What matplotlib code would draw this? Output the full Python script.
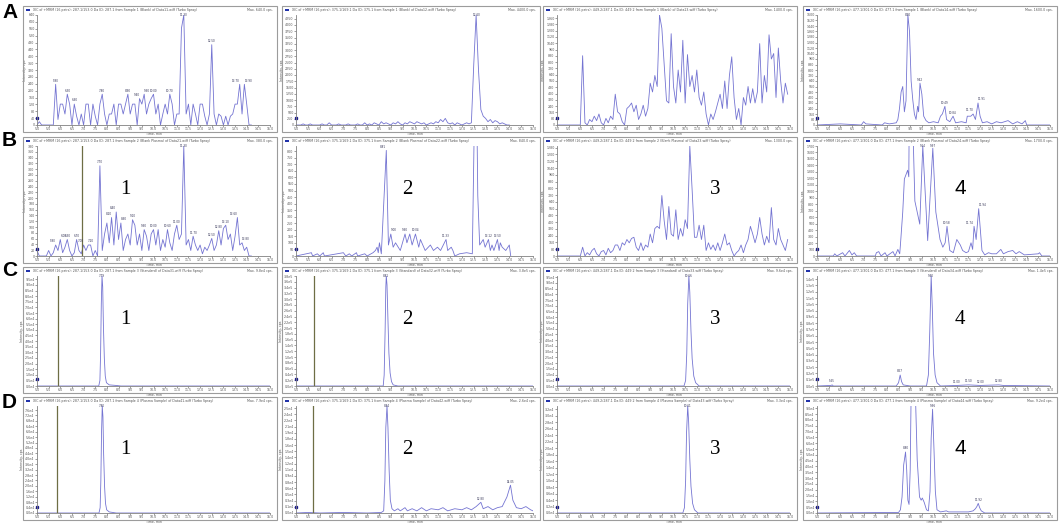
import numpy as np
import matplotlib
matplotlib.use('Agg')
import matplotlib.pyplot as plt
import matplotlib.patches as patches
from matplotlib.ticker import MultipleLocator, MaxNLocator, FuncFormatter

# intensities in % of the panel max (values > 100 run off the top of the axis)
# uniform panels: one scan every 0.1 min starting at 5.0 min
a1_y = [0, 3, 0, 0, 0, 0, 0, 0, 37, 5,
        19, 19, 10, 28, 19, 0, 19, 8, 0, 10,
        0, 19, 19, 0, 19, 8, 0, 19, 28, 10,
        0, 10, 10, 19, 0, 19, 19, 10, 19, 28,
        10, 19, 19, 0, 24, 19, 28, 10, 19, 24,
        28, 10, 19, 0, 10, 19, 10, 28, 19, 0,
        10, 10, 88, 100, 10, 19, 0, 19, 10, 0,
        19, 19, 8, 0, 10, 73, 10, 0, 10, 8,
        0, 8, 0, 8, 10, 19, 19, 37, 10, 37,
        19, 0, 0]
a1_lab = [5.8, 6.3, 6.6, 7.8, 8.9, 9.4, 9.6, 10.0, 10.7, 11.3, 12.5, 13.7, 13.9]

a2_y = [0, 0, 0, 1, 0, 0, 1, 0, 0, 0,
        0, 1, 0, 0, 2, 0, 0, 0, 1, 0,
        0, 0, 1, 0, 0, 0, 1, 0, 0, 2,
        0, 1, 0, 2, 1, 0, 3, 1, 2, 1,
        0, 2, 1, 3, 1, 0, 2, 1, 3, 2,
        1, 3, 2, 1, 2, 0, 1, 2, 1, 3,
        2, 5, 3, 6, 2, 1, 2, 0, 2, 1,
        0, 1, 2, 1, 2, 55, 100, 50, 14, 8,
        6, 3, 5, 2, 4, 3, 1, 2, 1, 0,
        0]
a2_lab = [12.6]

a3_y = [0, 0, 0, 0, 0, 0, 0, 0, 0, 0,
        0, 63, 2, 0, 5, 3, 8, 4, 10, 2,
        0, 6, 2, 8, 5, 28, 12, 10, 3, 0,
        15, 17, 20, 12, 18, 5, 10, 18, 8, 15,
        38, 30, 45, 35, 100, 88, 55, 22, 20, 83,
        35, 20, 50, 30, 77, 20, 64, 35, 45, 30,
        50, 25, 18, 30, 10, 0, 10, 5, 12, 20,
        28, 15, 40, 15, 45, 62, 25, 5, 15, 0,
        25, 18, 35, 20, 33, 20, 30, 74, 20, 45,
        30, 82, 60, 65, 25, 70, 40, 20, 38, 28]
a3_lab = []

a4_t = [5.0, 6.0, 6.9, 7.0, 7.1, 7.8, 7.9, 8.1, 8.4, 8.47, 8.54, 8.61, 8.68, 8.75, 8.82,
        8.9, 8.97, 9.04, 9.11, 9.18, 9.25, 9.32, 9.36, 9.42, 9.5, 9.58, 9.68, 9.8, 10.0,
        10.2, 10.3, 10.38, 10.49, 10.56, 10.7, 10.84, 10.95, 11.2, 11.4, 11.45, 11.6, 11.7,
        11.8, 11.91, 12.0, 12.1, 12.3, 12.5, 12.7, 12.9, 13.2, 13.4, 13.6, 13.8, 13.94, 14.0, 15.0]
a4_y = [0, 1, 0, 3, 1, 0, 2, 1, 2, 5, 15, 30, 35, 12, 22,
        100, 85, 40, 23, 10, 5, 17, 12, 38, 28, 8, 4, 2, 3,
        2, 8, 10, 17, 5, 3, 8, 2, 3, 2, 8, 8, 10,
        5, 20, 8, 2, 3, 1, 3, 2, 4, 1, 3, 1, 4, 0, 0]
a4_lab = [8.9, 9.42, 10.49, 10.84, 11.7, 11.91]

b1_y = [5, 0, 0, 0, 0, 5, 0, 3, 10, 5,
        15, 3, 8, 15, 5, 0, 3, 15, 5, 2,
        10, 5, 10, 10, 0, 5, 0, 82, 5, 20,
        30, 12, 35, 10, 40, 15, 30, 5, 15, 20,
        10, 33, 28, 10, 20, 5, 24, 18, 5, 20,
        24, 10, 24, 5, 15, 8, 24, 12, 5, 20,
        28, 15, 20, 100, 10, 15, 5, 18, 10, 5,
        10, 2, 8, 5, 10, 16, 5, 10, 23, 10,
        25, 28, 15, 20, 5, 18, 35, 10, 12, 5,
        8, 0, 0]
b1_lab = [5.8, 6.0, 6.3, 6.7, 7.0, 7.2, 7.7, 8.2, 8.4, 8.6, 9.1, 9.6, 10.0, 10.6,
          11.0, 11.3, 11.7, 12.5, 12.8, 13.1, 13.6, 13.8]

b2_t = [5.0, 5.65, 5.7, 5.9, 6.0, 6.15, 6.2, 7.0, 7.1, 7.25, 7.35, 7.55, 7.6, 7.9, 8.0,
        8.25, 8.35, 8.42, 8.47, 8.52, 8.6, 8.81, 8.9, 9.0, 9.1, 9.2, 9.4, 9.6, 9.68, 9.8,
        9.9, 10.04, 10.18, 10.25, 10.45, 10.67, 10.8, 10.97, 11.1, 11.33, 11.4, 11.55, 11.62,
        11.7, 11.9, 12.2, 12.44, 12.53, 12.63, 12.67, 12.75, 12.9, 12.98, 13.12, 13.2, 13.27,
        13.35, 13.5, 13.57, 13.62, 13.7, 13.85, 14.0, 14.06]
b2_y = [0, 3, 0, 2, 0, 3, 0, 3, 0, 2, 0, 3, 0, 2, 0,
        3, 5, 8, 3, 12, 2, 96, 10, 20, 8, 12, 5, 20, 12, 20,
        10, 20, 8, 15, 5, 10, 5, 8, 5, 15, 5, 8, 5,
        0, 2, 3, 2, 130, 130, 55, 10, 15, 8, 15, 5, 10,
        5, 15, 5, 12, 8, 5, 10, 0]
b2_lab = [8.81, 9.0, 9.6, 10.04, 11.33, 13.12, 13.5]

b3_y = [0, 0, 0, 0, 0, 0, 0, 0, 0, 0,
        0, 8, 0, 3, 1, 5, 7, 2, 0, 4,
        5, 1, 7, 3, 5, 10, 10, 5, 12, 10,
        15, 12, 16, 17, 8, 5, 12, 5, 10, 8,
        20, 12, 25, 27, 25, 55, 32, 15, 45, 20,
        18, 42, 15, 25, 18, 33, 25, 100, 60, 17,
        17, 28, 15, 28, 5, 12, 6, 10, 5, 12,
        5, 12, 20, 10, 12, 5, 0, 3, 5, 10,
        3, 10, 15, 27, 20, 12, 20, 35, 20, 10,
        18, 12, 44, 15, 10, 25, 15, 10, 5, 15]
b3_lab = []

b4_t = [5.0, 5.7, 5.76, 5.85, 6.1, 6.2, 6.39, 6.5, 6.6, 6.7, 7.5, 7.55, 7.65, 7.75, 7.92,
        8.0, 8.26, 8.35, 8.47, 8.55, 8.58, 8.68, 8.75, 8.89, 8.94, 8.96, 9.1, 9.2, 9.41, 9.54,
        9.75, 9.97, 10.1, 10.28, 10.4, 10.5, 10.58, 10.7, 10.85, 11.0, 11.15, 11.25, 11.4,
        11.5, 11.61, 11.68, 11.74, 11.83, 11.94, 12.08, 12.2, 12.36, 12.5, 12.7, 12.89, 13.0,
        13.2, 13.4, 13.54, 13.68, 13.9, 14.5, 14.55, 14.65, 15.0]
b4_y = [0, 0, 2, 0, 3, 0, 5, 1, 3, 0, 0, 3, 4, 0, 3,
        0, 4, 0, 6, 2, 10, 40, 70, 78, 72, 130, 130, 50, 29, 100,
        14, 98, 40, 15, 8, 12, 27, 5, 3, 15, 10, 5, 3,
        4, 12, 6, 27, 15, 43, 5, 1, 3, 2, 2, 6, 2,
        4, 5, 2, 4, 1, 2, 3, 0, 0]
b4_lab = [9.54, 9.97, 10.58, 11.74, 11.94]

c1_t = [5.0, 7.65, 7.7, 7.73, 7.76, 7.79, 7.82, 7.85, 7.89, 7.93, 7.98, 8.1, 8.4, 8.6, 15.0]
c1_y = [0, 0, 5, 30, 75, 100, 90, 55, 25, 9, 3, 1, 0.5, 0, 0]
c1_lab = [7.79]

c2_t = [5.0, 8.68, 8.72, 8.76, 8.79, 8.81, 8.84, 8.88, 8.92, 8.97, 9.03, 9.1, 9.3, 15.0]
c2_y = [0, 0, 10, 50, 90, 100, 92, 60, 30, 12, 4, 1, 0, 0]
c2_lab = [8.81]

c3_t = [5.0, 10.45, 10.52, 10.57, 10.61, 10.66, 10.7, 10.75, 10.8, 10.87, 10.95, 11.1, 15.0]
c3_y = [0, 0, 5, 30, 75, 100, 85, 50, 25, 9, 3, 0, 0]
c3_lab = [10.66]

c4_t = [5.0, 5.6, 5.65, 5.7, 8.4, 8.5, 8.57, 8.63, 8.7, 9.0, 9.7, 9.78, 9.84, 9.9, 9.95,
        10.0, 10.07, 10.15, 10.3, 11.0, 11.5, 12.0, 12.8, 13.0, 15.0]
c4_y = [0, 0.5, 1, 0, 0, 3, 10, 4, 1, 0, 0, 10, 50, 100, 70,
        30, 10, 3, 0, 0.5, 1, 0.5, 1, 0.5, 0]
c4_lab = [5.65, 8.57, 9.9, 11.0, 11.5, 12.0, 12.8]

d1_t = [5.0, 7.66, 7.71, 7.74, 7.77, 7.8, 7.83, 7.86, 7.9, 7.94, 7.99, 8.1, 8.4, 15.0]
d1_y = [0, 0, 5, 30, 75, 100, 90, 55, 25, 9, 3, 1, 0, 0]
d1_lab = [7.8]

d2_t = [5.0, 5.5, 6.0, 7.0, 8.0, 8.6, 8.7, 8.75, 8.79, 8.84, 8.88, 8.93, 8.98, 9.05, 9.15,
        9.3, 9.4, 9.6, 9.7, 9.9, 10.1, 10.3, 10.5, 10.7, 11.0, 11.2, 11.4, 11.7, 12.0, 12.2,
        12.4, 12.6, 12.8, 12.9, 13.1, 13.3, 13.5, 13.7, 13.9, 14.05, 14.15, 14.3, 14.5, 14.7,
        14.9, 15.0]
d2_y = [0, 0.5, 0, 0.5, 0, 0.5, 2, 30, 80, 100, 80, 40, 12, 4, 2,
        4, 2, 5, 2, 4, 2, 5, 2, 4, 3, 5, 2, 4, 3, 5,
        3, 6, 10, 4, 6, 3, 5, 6, 15, 26, 12, 5, 4, 6,
        3, 2]
d2_lab = [8.84, 12.8, 14.05]

d3_t = [5.0, 10.4, 10.47, 10.52, 10.56, 10.61, 10.65, 10.7, 10.75, 10.82, 10.9, 11.05, 15.0]
d3_y = [0, 0, 5, 30, 75, 100, 85, 50, 25, 9, 3, 0, 0]
d3_lab = [10.61]

d4_t = [5.0, 7.0, 8.5, 8.58, 8.65, 8.72, 8.8, 8.85, 8.9, 8.95, 9.0, 9.05, 9.2, 9.3, 9.4,
        9.47, 9.52, 9.6, 9.7, 9.78, 9.85, 9.9, 9.96, 10.02, 10.08, 10.15, 10.3, 10.55, 10.65,
        11.0, 11.5, 11.7, 11.8, 11.86, 11.92, 11.98, 12.05, 12.2, 15.0]
d4_y = [0, 0.3, 0.5, 3, 15, 45, 57, 40, 12, 8, 40, 130, 130, 50, 15,
        12, 14, 10, 3, 2, 20, 70, 97, 60, 20, 3, 1, 2, 1,
        1, 1, 2, 4, 6, 9, 5, 2, 0, 0]
d4_lab = [8.8, 9.96, 11.92]

# max intensity (cps) of each panel, row by row
ymax_rows = [[640, 4400, 1400, 1600],
             [380, 840, 1300, 1700],
             [9.8e4, 3.8e5, 9.6e4, 1.4e5],
             [7.9e4, 2.6e4, 3.3e4, 9.2e4]]
# olive marker line (min) where present
vlines = {(1, 0): 6.93, (2, 0): 5.9, (2, 1): 5.75, (3, 0): 5.86, (3, 1): 5.73}

transitions = ['287.1/153.0 Da', '375.1/169.1 Da', '449.2/287.1 Da', '477.1/301.0 Da']
samples = ['Blank', 'Blank Plasma', 'Standard', 'Plasma Sample']
row_letters = ['A', 'B', 'C', 'D']
numbers = ['1', '2', '3', '4']


def grid(vals):
    return 5.0 + 0.1 * np.arange(len(vals))


data = [[(grid(a1_y), a1_y, a1_lab), (grid(a2_y), a2_y, a2_lab), (grid(a3_y), a3_y, a3_lab), (a4_t, a4_y, a4_lab)],
        [(grid(b1_y), b1_y, b1_lab), (b2_t, b2_y, b2_lab), (grid(b3_y), b3_y, b3_lab), (b4_t, b4_y, b4_lab)],
        [(c1_t, c1_y, c1_lab), (c2_t, c2_y, c2_lab), (c3_t, c3_y, c3_lab), (c4_t, c4_y, c4_lab)],
        [(d1_t, d1_y, d1_lab), (d2_t, d2_y, d2_lab), (d3_t, d3_y, d3_lab), (d4_t, d4_y, d4_lab)]]

W, H = 1059, 523
fig = plt.figure(figsize=(W / 100, H / 100), dpi=100)

col_px = [(23, 277), (282, 540), (543, 797), (803, 1057)]
row_px = [(6, 132), (137, 263), (267, 393), (397, 520)]
letter_y = [13, 140, 270, 402]
num_px = [125, 407, 715, 960]
num_dy = 52
line_col = '#7474d2'


def px_x(p):
    return p / W


def px_y(p):
    return 1 - p / H


def fmt_max(v):
    if v >= 1e4:
        e = int(np.floor(np.log10(v)))
        return f'{v / 10 ** e:.1f}e{e}'
    return f'{v:.1f}'


def make_yfmt(ymax):
    def f(v, pos):
        if ymax >= 1e4:
            e = int(np.floor(np.log10(ymax)))
            return f'{v / 10 ** e:.1f}e{e}'
        return f'{v:.0f}'
    return FuncFormatter(f)


for r in range(4):
    y0, y1 = row_px[r]
    fig.text(px_x(2), px_y(letter_y[r]), row_letters[r], fontsize=15, fontweight='bold',
             family='Liberation Sans', va='center', ha='left')
    for c in range(4):
        x0, x1 = col_px[c]
        t, y, lab = data[r][c]
        ymax = ymax_rows[r][c]
        t = np.asarray(t, dtype=float)
        yv = np.asarray(y, dtype=float) / 100.0 * ymax

        fig.add_artist(patches.Rectangle((px_x(x0), px_y(y1)), (x1 - x0) / W, (y1 - y0) / H,
                                         transform=fig.transFigure, fill=False,
                                         ec='#9c9c9c', lw=0.8))
        fig.add_artist(patches.Rectangle((px_x(x0 + 3), px_y(y0 + 5)), 4 / W, 2.5 / H,
                                         transform=fig.transFigure, fc='#2233aa', ec='none'))
        fig.text(px_x(x0 + 10), px_y(y0 + 4),
                 f'XIC of +MRM (16 pairs): {transitions[c]} ID: {transitions[c].split("/")[0]} '
                 f'from Sample {r + 1} ({samples[r]}) of Data{r + 1}{c + 1}.wiff (Turbo Spray)',
                 fontsize=2.3, color='#555555', va='center', ha='left')
        fig.text(px_x(x1 - 4), px_y(y0 + 4), f'Max. {fmt_max(ymax)} cps.',
                 fontsize=2.3, color='#555555', va='center', ha='right')

        ax = fig.add_axes([px_x(x0 + 14), px_y(y1 - 7), (x1 - x0 - 21) / W, (y1 - y0 - 16) / H])
        ax.plot(t, yv, color=line_col, lw=0.6)
        if (r, c) in vlines:
            ax.axvline(vlines[(r, c)], color='#6e6e45', lw=0.9)
        ax.plot([5.0], [ymax * 0.06], 's', color='#1a1a8c', ms=1.4, clip_on=False)
        for k, tl in enumerate(lab):
            v = min(np.interp(tl, t, yv), ymax * 0.97)
            ha = 'center'
            if k + 1 < len(lab) and lab[k + 1] - tl < 0.25:
                ha = 'right'
            elif k > 0 and tl - lab[k - 1] < 0.25:
                ha = 'left'
            ax.text(tl, v + ymax * 0.015, f'{tl:.2f}', fontsize=2.0, color='#333355',
                    ha=ha, va='bottom')
        ax.set_xlim(5.0, 15.0)
        ax.set_ylim(0, ymax)
        ax.xaxis.set_major_locator(MultipleLocator(0.5))
        ax.xaxis.set_major_formatter(FuncFormatter(lambda v, p: f'{v:.1f}'))
        ax.yaxis.set_major_locator(MaxNLocator(nbins=20))
        ax.yaxis.set_major_formatter(make_yfmt(ymax))
        ax.tick_params(labelsize=2.3, length=1.2, width=0.4, pad=0.5, colors='#555555')
        for s in ['top', 'right']:
            ax.spines[s].set_visible(False)
        for s in ['left', 'bottom']:
            ax.spines[s].set_color('#808080')
            ax.spines[s].set_linewidth(0.6)
        ax.set_xlabel('Time, min', fontsize=2.3, labelpad=0.3, color='#555555')
        ax.set_ylabel('Intensity, cps', fontsize=2.3, labelpad=1, color='#555555')

        if r >= 1:
            fam = 'Liberation Sans' if (c == 3 and r != 2) else 'Liberation Serif'
            fig.text(px_x(num_px[c]), px_y(y0 + num_dy), numbers[c], fontsize=15,
                     family=fam, ha='center', va='center')

fig.savefig('out.png', dpi=100)
